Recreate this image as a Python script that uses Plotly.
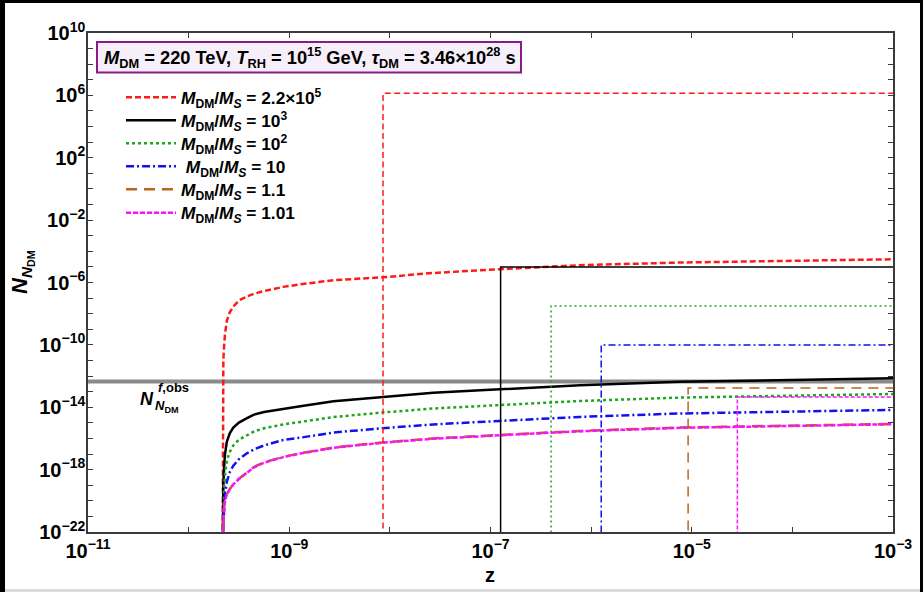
import numpy as np
import plotly.graph_objects as go

# ---------------- data ----------------
z = [2.18e-10, 2.19e-10, 2.213e-10, 2.249e-10, 2.30e-10, 2.40e-10, 2.57e-10, 2.78e-10,
     3.162e-10, 3.80e-10, 4.47e-10, 5.62e-10, 8.71e-10, 1.29e-9, 2.75e-9, 8.32e-9,
     2.69e-8, 1.23e-7, 7.76e-7, 7.59e-6, 7.59e-5, 2.34e-4, 1.0e-3]

log10_N_red = [-23, -13.0, -11.0, -10.1, -9.3, -8.45, -7.9, -7.55, -7.15, -6.9, -6.72, -6.55,
               -6.28, -6.12, -5.85, -5.67, -5.39, -5.15, -4.89, -4.72, -4.60, -4.55, -4.51]
log10_N_black = [-23, -20.5, -19.0, -17.9, -17.0, -16.2, -15.65, -15.3, -14.98, -14.7, -14.47, -14.3,
                 -14.08, -13.93, -13.62, -13.33, -13.07, -12.85, -12.59, -12.37, -12.24, -12.19, -12.14]
log10_N_green = [-23, -21.8, -20.3, -19.2, -18.3, -17.4, -16.85, -16.45, -16.08, -15.8, -15.55, -15.35,
                 -15.1, -14.94, -14.63, -14.34, -14.08, -13.86, -13.6, -13.38, -13.25, -13.2, -13.15]
log10_N_blue = [-23, -22.8, -21.5, -20.5, -19.6, -18.75, -18.15, -17.75, -17.33, -16.95, -16.7, -16.45,
                -16.1, -15.95, -15.62, -15.35, -15.1, -14.88, -14.62, -14.4, -14.27, -14.22, -14.17]
log10_N_brown = [-23, -22.5, -21.0, -20.4, -19.98, -19.58, -19.23, -18.93, -18.58, -18.18, -17.83, -17.53,
                 -17.18, -16.95, -16.58, -16.26, -16.0, -15.78, -15.52, -15.30, -15.17, -15.12, -15.07]
log10_N_magenta = [-23, -22.5, -21.0, -20.4, -20.0, -19.6, -19.25, -18.95, -18.6, -18.2, -17.85, -17.55,
                   -17.2, -16.97, -16.6, -16.28, -16.02, -15.8, -15.54, -15.32, -15.19, -15.14, -15.09]

# step (final-abundance) lines: onset z and plateau value
step_z = {"red": 8.55e-9, "black": 1.26e-7, "green": 4.0e-7, "blue": 1.26e-6,
          "brown": 9.2e-6, "magenta": 2.84e-5}
step_N = {"red": 1.35e6, "black": 1.0e-5, "green": 3.1e-8, "blue": 1.0e-10,
          "brown": 1.74e-13, "magenta": 4.57e-14}

N_obs = 4.4e-13
z_min, z_max = 1e-11, 1e-3
N_floor = 1e-23

legend_names = [
    "<i>M</i><sub>DM</sub>/<i>M</i><sub><i>S</i></sub> = 2.2×10<sup>5</sup>",
    "<i>M</i><sub>DM</sub>/<i>M</i><sub><i>S</i></sub> = 10<sup>3</sup>",
    "<i>M</i><sub>DM</sub>/<i>M</i><sub><i>S</i></sub> = 10<sup>2</sup>",
    " <i>M</i><sub>DM</sub>/<i>M</i><sub><i>S</i></sub> = 10",
    "<i>M</i><sub>DM</sub>/<i>M</i><sub><i>S</i></sub> = 1.1",
    "<i>M</i><sub>DM</sub>/<i>M</i><sub><i>S</i></sub> = 1.01",
]

x_tick_exp = list(range(-11, -2))
x_label_exp = [-11, -9, -7, -5, -3]
y_tick_exp = list(range(-22, 11))
y_label_exp = [10, 6, 2, -2, -6, -10, -14, -18, -22]

# ---------------- styles ----------------
FONT = "Liberation Sans, Arial, sans-serif"
series = [
    ("red", log10_N_red, "#ff1a1a", "6px,3px", "6px,3.5px"),
    ("black", log10_N_black, "#000000", "solid", "solid"),
    ("green", log10_N_green, "#1ea51e", "3px,3px", "2px,3px"),
    ("blue", log10_N_blue, "#1010f0", "8px,3px,2px,3px", "7px,3px,2px,3px"),
    ("brown", log10_N_brown, "#b8651f", "11px,7px", "10px,7px"),
    ("magenta", log10_N_magenta, "#ff10ff", "5px,2px", "4px,2px"),
]
legend_row_y = [97.5, 120.5, 143.5, 166.5, 189.5, 213]  # pixel rows of the legend entries

W, H = 923, 592
L, R, T, B = 88, 30, 33, 60
pw, ph = W - L - R, H - T - B

def px(xp):
    return (xp - L) / pw

def py(yp):
    return (H - B - yp) / ph

fig = go.Figure()

# observed abundance line
fig.add_trace(go.Scatter(x=[z_min, z_max], y=[N_obs, N_obs], mode="lines",
                         line=dict(color="#8a8a8a", width=4), showlegend=False,
                         hoverinfo="skip"))

# evolution curves (each in its own legend so the rows can be spaced like the reference)
legend_layouts = {}
for i, (key, logN, col, dash, sdash) in enumerate(series):
    lname = "legend" if i == 0 else f"legend{i + 1}"
    fig.add_trace(go.Scatter(x=z, y=10 ** np.array(logN), mode="lines",
                             line=dict(color=col, width=2.5, dash=dash),
                             name=legend_names[i], showlegend=True, legend=lname))
    legend_layouts[lname] = dict(
        x=px(121), y=py(legend_row_y[i]), xanchor="left", yanchor="middle",
        bgcolor="rgba(0,0,0,0)", borderwidth=0, itemwidth=50,
        font=dict(family=FONT, size=17.3, color="black", weight="bold"))

# step lines
for key, logN, col, dash, sdash in series:
    zs = step_z[key]
    Ns = step_N[key]
    fig.add_trace(go.Scatter(x=[zs, zs, z_max], y=[N_floor, Ns, Ns], mode="lines",
                             line=dict(color=col, width=1.5, dash=sdash),
                             showlegend=False))

def sup_label(e):
    s = str(e).replace("-", "−")
    return f"10<sup>{s}</sup>"

x_tickvals = [10.0 ** e for e in x_tick_exp]
x_ticktext = [sup_label(e) if e in x_label_exp else "" for e in x_tick_exp]
y_tickvals = [10.0 ** e for e in y_tick_exp]
y_ticktext = [sup_label(e) if e in y_label_exp else "" for e in y_tick_exp]

axis_common = dict(showline=True, linecolor="#3a3a3a", linewidth=1.5, mirror="ticks",
                   ticks="inside", ticklen=5, tickwidth=1.2, tickcolor="#3a3a3a",
                   showgrid=False, zeroline=False,
                   tickfont=dict(family=FONT, size=20, color="black", weight="bold"))

fig.update_xaxes(type="log", range=[-11, -3], tickvals=x_tickvals, ticktext=x_ticktext,
                 **axis_common)
fig.update_yaxes(type="log", range=[-22, 10], tickvals=y_tickvals, ticktext=y_ticktext,
                 ticklabelstandoff=-3, **axis_common)

shapes = [
    # parameter box
    dict(type="rect", xref="paper", yref="paper", x0=px(97), x1=px(521), y0=py(72.5), y1=py(42),
         line=dict(color="#8a1a8a", width=2), fillcolor="#f6eef8", layer="above"),
    # outer frame strips of the reference image
    dict(type="rect", xref="paper", yref="paper", x0=px(0), x1=px(5), y0=py(H), y1=py(0),
         line=dict(width=0), fillcolor="black"),
    dict(type="rect", xref="paper", yref="paper", x0=px(0), x1=px(W), y0=py(3), y1=py(0),
         line=dict(width=0), fillcolor="black"),
    dict(type="rect", xref="paper", yref="paper", x0=px(920), x1=px(W), y0=py(H), y1=py(0),
         line=dict(width=0), fillcolor="black"),
    dict(type="rect", xref="paper", yref="paper", x0=px(5), x1=px(920), y0=py(H), y1=py(589),
         line=dict(width=0), fillcolor="#dcdcdc"),
]

bold = dict(family=FONT, color="black", weight="bold")
annotations = [
    dict(xref="paper", yref="paper", x=px(310), y=py(57.5), xanchor="center", yanchor="middle",
         showarrow=False,
         text="<i>M</i><sub>DM</sub> = 220 TeV, <i>T</i><sub>RH</sub> = 10<sup>15</sup> GeV, "
              "<i>τ</i><sub>DM</sub> = 3.46×10<sup>28</sup> s",
         font=dict(size=18.3, **bold)),
    # y-axis title
    dict(xref="paper", yref="paper", x=px(22), y=py(272), xanchor="center", yanchor="middle",
         showarrow=False, textangle=-90,
         text="<i>N</i><sub><i>N</i><sub>DM</sub></sub>", font=dict(size=22, **bold)),
    # x-axis title
    dict(xref="paper", yref="paper", x=px(490), y=py(575), xanchor="center", yanchor="middle",
         showarrow=False, text="z", font=dict(size=20, **bold)),
    # observed abundance label
    dict(xref="paper", yref="paper", x=px(138), y=py(399), xanchor="left", yanchor="middle",
         showarrow=False, text="<i>N</i>", font=dict(size=18, **bold)),
    dict(xref="paper", yref="paper", x=px(156), y=py(388), xanchor="left", yanchor="middle",
         showarrow=False, text="<i>f</i>,obs", font=dict(size=13, **bold)),
    dict(xref="paper", yref="paper", x=px(153), y=py(406), xanchor="left", yanchor="middle",
         showarrow=False, text="<i>N</i><sub>DM</sub>", font=dict(size=13, **bold)),
]

fig.update_layout(
    width=W, height=H, margin=dict(l=L, r=R, t=T, b=B, pad=0),
    paper_bgcolor="white", plot_bgcolor="white",
    shapes=shapes, annotations=annotations,
    showlegend=True,
    **legend_layouts,
)

fig.write_html("out.html", config={"displayModeBar": False},
               post_script="document.body.style.margin='0';document.body.style.overflow='hidden';")
